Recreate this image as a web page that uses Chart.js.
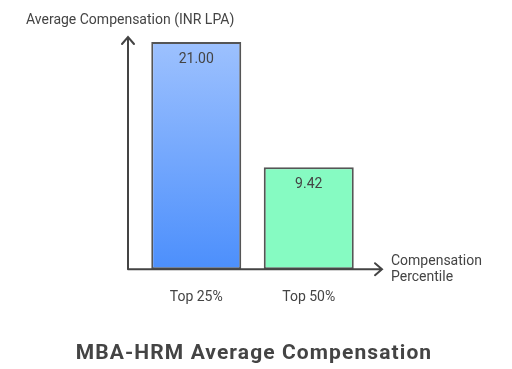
<!DOCTYPE html>
<html lang="en">
<head>
    <meta charset="UTF-8">
    <title>MBA-HRM Average Compensation</title>
    <script src="https://cdn.jsdelivr.net/npm/chart.js"></script>
    <style>
        html, body { margin: 0; padding: 0; background: #fff; }
        #wrap { width: 512px; height: 369px; }
    </style>
</head>
<body>
    <div id="wrap"><canvas id="compChart" width="512" height="369"></canvas></div>

    <script>
        const categories = ["Top 25%", "Top 50%"];
        const compensation = [21.00, 9.42];
        const valueLabels = ["21.00", "9.42"];
        const yTitle = "Average Compensation (INR LPA)";
        const xTitle = ["Compensation", "Percentile"];
        const chartTitle = "MBA-HRM Average Compensation";

        const textColor = '#444';
        const font = 'Roboto, "Noto Sans", sans-serif';

        // first bar: vertical gradient, second bar: flat green
        function barColor(context) {
            const chart = context.chart;
            const area = chart.chartArea;
            if (context.dataIndex === 1) return '#86fbc2';
            if (!area) return '#79aafd';
            const g = chart.ctx.createLinearGradient(0, area.top, 0, area.bottom);
            g.addColorStop(0, '#9dc1fe');
            g.addColorStop(1, '#4c8ffc');
            return g;
        }

        // arrow axes, axis titles, value labels and the chart title
        const decorations = {
            id: 'decorations',
            afterDatasetsDraw(chart) {
                const ctx = chart.ctx;
                const meta = chart.getDatasetMeta(0);
                ctx.save();
                ctx.fillStyle = textColor;
                ctx.font = '14px ' + font;
                ctx.textAlign = 'center';
                ctx.textBaseline = 'middle';
                meta.data.forEach((bar, i) => {
                    ctx.fillText(valueLabels[i], bar.x, bar.y + 17);
                });
                ctx.restore();
            },
            afterDraw(chart) {
                const ctx = chart.ctx;
                const a = chart.chartArea;
                const x0 = a.left - 12;
                const y0 = a.bottom;
                const yTop = a.top - 5;
                const xEnd = a.right + 17;
                ctx.save();
                ctx.strokeStyle = textColor;
                ctx.lineWidth = 2;
                ctx.lineCap = 'round';
                ctx.beginPath();
                ctx.moveTo(x0, y0);
                ctx.lineTo(x0, yTop);
                ctx.moveTo(x0 - 6, yTop + 7);
                ctx.lineTo(x0, yTop);
                ctx.lineTo(x0 + 6, yTop + 7);
                ctx.moveTo(x0, y0);
                ctx.lineTo(xEnd, y0);
                ctx.moveTo(xEnd - 7, y0 - 6);
                ctx.lineTo(xEnd, y0);
                ctx.lineTo(xEnd - 7, y0 + 6);
                ctx.stroke();

                ctx.fillStyle = textColor;
                ctx.font = '14px ' + font;
                ctx.textAlign = 'left';
                ctx.textBaseline = 'alphabetic';
                ctx.fillText(yTitle, 26, 24);
                ctx.fillText(xTitle[0], xEnd + 9, y0 - 4);
                ctx.fillText(xTitle[1], xEnd + 9, y0 + 12);

                ctx.font = 'bold 21px ' + font;
                ctx.textAlign = 'center';
                if ('letterSpacing' in ctx) ctx.letterSpacing = '1.1px';
                ctx.fillText(chartTitle, chart.width / 2 - 2, 359);
                ctx.restore();
            }
        };

        const ctx = document.getElementById('compChart').getContext('2d');
        const compChart = new Chart(ctx, {
            type: 'bar',
            data: {
                labels: categories,
                datasets: [{
                    data: compensation,
                    backgroundColor: barColor,
                    borderColor: '#555',
                    borderWidth: 2,
                    borderSkipped: false,
                    categoryPercentage: 1,
                    barPercentage: 0.8
                }]
            },
            options: {
                responsive: false,
                animation: false,
                layout: { padding: { left: 140, right: 147, top: 42, bottom: 43 } },
                plugins: {
                    legend: { display: false },
                    tooltip: { enabled: false },
                    title: { display: false }
                },
                scales: {
                    x: {
                        grid: { display: false, drawTicks: false },
                        border: { display: false },
                        ticks: {
                            color: textColor,
                            padding: 20,
                            font: { family: font, size: 14 }
                        }
                    },
                    y: {
                        display: false,
                        min: 0,
                        max: 21
                    }
                }
            },
            plugins: [decorations]
        });
    </script>
</body>
</html>
